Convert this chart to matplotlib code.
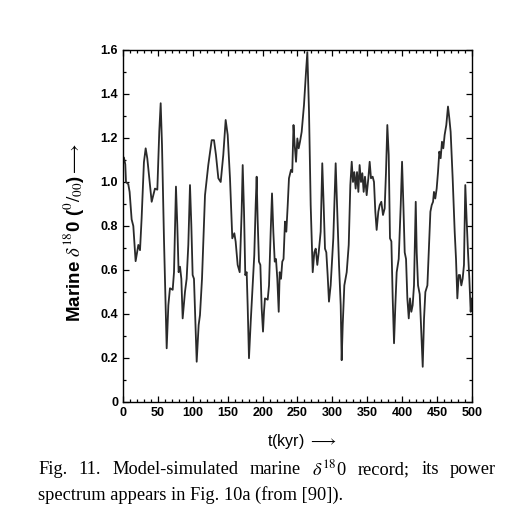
import matplotlib
matplotlib.use('Agg')
import matplotlib.pyplot as plt
from matplotlib.ticker import MultipleLocator

plt.rcParams['mathtext.fontset'] = 'stix'

# model-simulated marine d18O record
t_kyr = [1.4, 3.3, 4.3, 7.6, 9.5, 12.4, 14.8, 18.1, 22.0, 24.4, 26.7, 30.0, 32.5, 34.8,
         41.1, 45.8, 49.2, 52.0, 54.0, 55.9, 58.7, 62.6, 65.0, 67.3, 71.2, 73.1, 75.9,
         77.8, 79.7, 81.7, 83.6, 85.5, 88.8, 91.2, 93.6, 96.0, 97.9, 99.8, 101.7, 105.6,
         108.4, 110.3, 113.2, 117.5, 122.2, 127.1, 130.4, 133.2, 136.6, 140.0, 143.7,
         147.1, 150.0, 153.3, 156.6, 159.5, 161.4, 164.3, 167.2, 170.0, 171.5, 173.4,
         175.2, 177.2, 178.6, 180.5, 183.0, 185.3, 188.1, 190.1, 191.5, 192.9, 194.8,
         196.8, 198.7, 200.6, 202.0, 203.4, 207.3, 209.2, 211.6, 213.5, 215.4, 217.4,
         219.2, 221.1, 223.1, 224.5, 226.4, 228.2, 230.0, 232.1, 234.0, 236.0, 237.8,
         240.7, 242.5, 244.3, 246.0, 247.9, 249.8, 251.7, 253.6, 256.0, 259.3, 262.2,
         264.1, 266.5, 268.9, 271.8, 274.1, 276.1, 278.4, 280.4, 283.2, 285.5, 287.5,
         289.4, 291.3, 293.2, 295.1, 297.5, 301.3, 304.7, 307.0, 309.5, 311.9, 313.3,
         314.8, 317.1, 320.5, 323.4, 325.7, 327.7, 329.5, 331.4, 333.3, 335.3, 337.2,
         339.0, 341.0, 342.9, 344.8, 346.7, 349.1, 351.5, 353.4, 355.3, 357.7, 359.6,
         361.5, 363.4, 365.8, 367.8, 370.1, 372.5, 374.9, 376.8, 378.7, 380.7, 382.5,
         384.5, 386.4, 388.3, 390.2, 392.1, 395.0, 397.9, 399.8, 401.7, 403.6, 405.5,
         407.4, 409.4, 411.2, 413.1, 415.0, 416.9, 419.4, 420.8, 422.7, 425.1, 427.5,
         429.4, 431.3, 433.2, 436.1, 438.0, 440.4, 442.3, 444.2, 445.5, 447.4, 449.4,
         451.3, 453.2, 455.1, 457.0, 458.9, 460.8, 463.2, 465.6, 467.5, 469.4, 472.3,
         475.2, 477.1, 479.0, 481.0, 482.8, 484.7, 486.6, 488.5, 490.4, 492.3, 494.3,
         496.2, 498.1, 499.5]
d18o = [1.11, 1.08, 1.00, 0.99, 0.955, 0.83, 0.80, 0.64, 0.714, 0.69, 0.835, 1.09, 1.153,
        1.108, 0.91, 0.97, 0.965, 1.23, 1.358, 1.168, 0.744, 0.244, 0.44, 0.517, 0.51,
        0.59, 0.979, 0.805, 0.59, 0.615, 0.56, 0.38, 0.50, 0.56, 0.714, 0.986, 0.805,
        0.577, 0.56, 0.183, 0.35, 0.395, 0.56, 0.94, 1.077, 1.19, 1.19, 1.123, 1.017,
        1.00, 1.123, 1.282, 1.214, 1.017, 0.744, 0.767, 0.729, 0.623, 0.59, 0.865,
        1.077, 0.865, 0.577, 0.59, 0.44, 0.199, 0.365, 0.50, 0.668, 0.895, 1.024, 0.83,
        0.638, 0.623, 0.426, 0.32, 0.41, 0.471, 0.465, 0.53, 0.774, 0.948, 0.774, 0.638,
        0.65, 0.56, 0.41, 0.59, 0.56, 0.638, 0.65, 0.82, 0.774, 0.895, 1.017, 1.055,
        1.045, 1.259, 1.168, 1.092, 1.198, 1.153, 1.183, 1.228, 1.35, 1.50, 1.59, 1.32,
        0.895, 0.59, 0.68, 0.697, 0.623, 0.68, 0.774, 1.085, 0.895, 0.697, 0.68, 0.577,
        0.456, 0.53, 0.744, 1.085, 0.865, 0.623, 0.44, 0.19, 0.35, 0.53, 0.59, 0.714,
        0.986, 1.092, 1.00, 1.045, 0.97, 1.045, 0.955, 1.077, 1.00, 1.04, 0.955, 1.024,
        0.94, 1.017, 1.092, 1.017, 1.024, 1.00, 0.865, 0.782, 0.865, 0.895, 0.91, 0.85,
        0.88, 1.045, 1.259, 1.123, 0.744, 0.73, 0.471, 0.267, 0.44, 0.59, 0.65, 0.895,
        1.092, 0.895, 0.68, 0.65, 0.47, 0.38, 0.471, 0.41, 0.44, 0.53, 0.91, 0.68, 0.53,
        0.49, 0.30, 0.16, 0.38, 0.50, 0.53, 0.68, 0.865, 0.895, 0.91, 0.955, 0.925,
        0.97, 1.045, 1.138, 1.108, 1.183, 1.153, 1.214, 1.259, 1.343, 1.29, 1.228,
        1.017, 0.774, 0.65, 0.471, 0.577, 0.577, 0.53, 0.56, 0.623, 0.986, 0.83, 0.68,
        0.56, 0.41, 0.47]

x_ticks = [0, 50, 100, 150, 200, 250, 300, 350, 400, 450, 500]
y_ticks = [0, 0.2, 0.4, 0.6, 0.8, 1.0, 1.2, 1.4, 1.6]
y_ticklabels = ["0", "0.2", "0.4", "0.6", "0.8", "1.0", "1.2", "1.4", "1.6"]

caption_1 = ["Fig.", "11.", "Model-simulated", "marine", r"$\delta^{18}$0", "record;", "its", "power"]
caption_2 = "spectrum appears in Fig. 10a (from [90])."

sans = ['Liberation Sans', 'DejaVu Sans']
serif = ['Liberation Serif', 'DejaVu Serif']

fig = plt.figure(figsize=(5.15, 5.29), dpi=100)
ax = fig.add_axes([0.2388, 0.2401, 0.6777, 0.6654])
ax.plot(t_kyr, d18o, color='#2a2a2a', lw=1.3)

ax.set_xlim(0, 500)
ax.set_ylim(0, 1.6)
ax.set_xticks(x_ticks)
ax.set_yticks(y_ticks)
ax.set_yticklabels(y_ticklabels)
ax.xaxis.set_minor_locator(MultipleLocator(10))
ax.yaxis.set_minor_locator(MultipleLocator(0.1))
ax.tick_params(which='both', direction='in', top=True, right=True, width=0.9)
ax.tick_params(which='major', length=4, labelsize=9)
ax.tick_params(which='minor', length=2)
for lab in ax.get_xticklabels() + ax.get_yticklabels():
    lab.set_family(sans)
    lab.set_fontweight('bold')
for sp in ax.spines.values():
    sp.set_linewidth(1.0)

fig.text(0.585, 0.165, r"t(kyr) $\longrightarrow$", ha='center', va='center',
         fontsize=11.5, family=sans)
fig.text(0.142, 0.561, r"Marine $\delta^{18}$0 ($^{0}/_{00}$)$\longrightarrow$", ha='center',
         va='center', rotation=90, fontsize=13.5, family=sans, fontweight='bold')

# caption: first line justified between the two margins
cap_left, cap_right, cap_size = 38, 496, 13.2
renderer = fig.canvas.get_renderer()
words = [fig.text(0, 0.112, w, ha='left', va='center', fontsize=cap_size, family=serif)
         for w in caption_1]
widths = [w.get_window_extent(renderer).width for w in words]
gap = (cap_right - cap_left - sum(widths)) / (len(words) - 1)
xpos = cap_left
for w, wd in zip(words, widths):
    w.set_x(xpos / 515)
    xpos += wd + gap
fig.text(cap_left / 515, 0.064, caption_2, ha='left', va='center',
         fontsize=cap_size, family=serif)

plt.savefig("out.png", dpi=100)
